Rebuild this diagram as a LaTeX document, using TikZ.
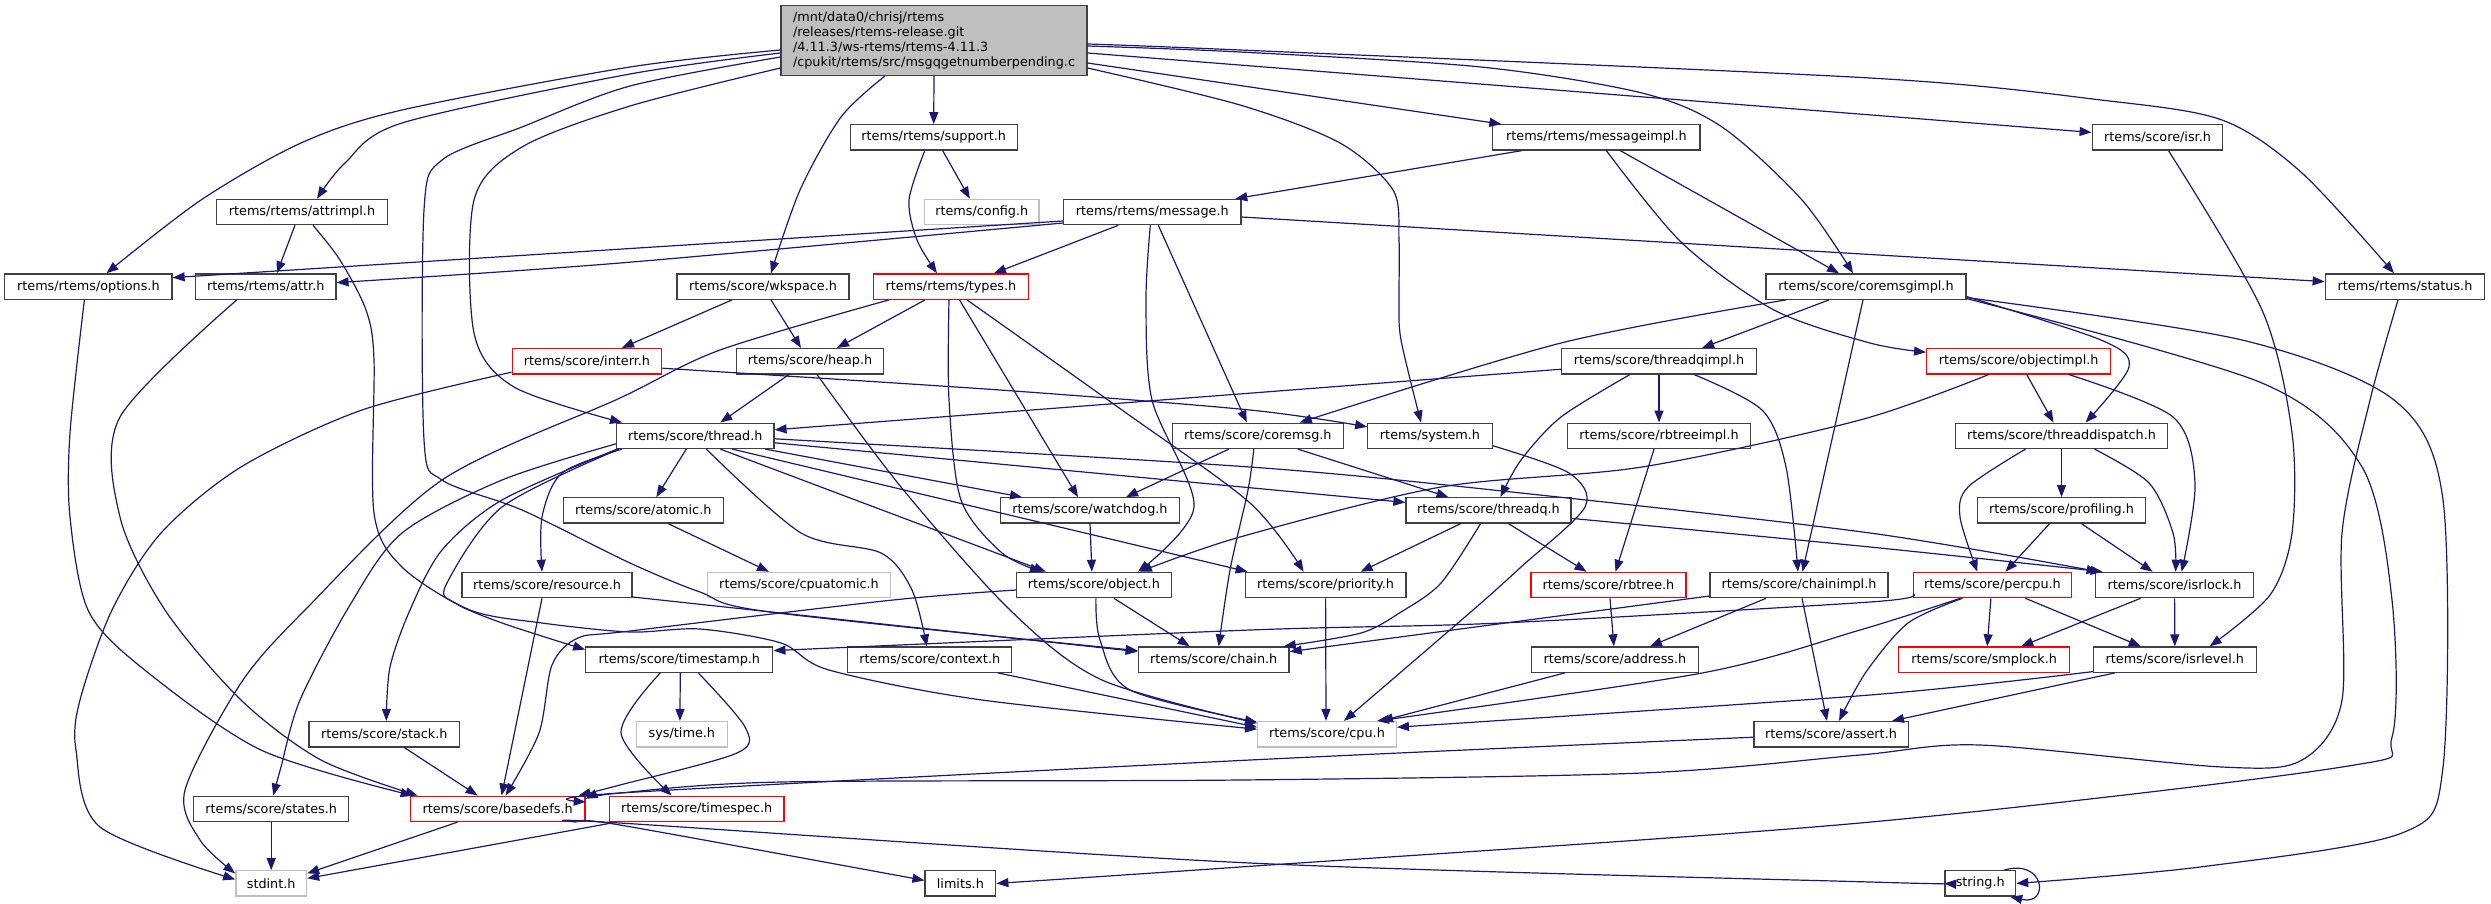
\documentclass[tikz,border=0pt]{standalone}
\usepackage{fontspec}
\setmainfont{DejaVu Sans}
\usetikzlibrary{arrows.meta}
\definecolor{edgec}{RGB}{25,25,112}
\definecolor{bord}{HTML}{404040}
\definecolor{redb}{HTML}{FF0000}
\definecolor{grayb}{HTML}{BFBFBF}
\begin{document}
\begin{tikzpicture}[x=1pt,y=-1pt,
 nd/.style={draw=bord, line width=1.3pt, fill=white, rectangle, inner sep=0pt, minimum height=25.3pt, font=\fontsize{12.8}{14.8}\selectfont},
 rd/.style={nd, draw=redb},
 gd/.style={nd, draw=grayb},
 rootnd/.style={nd, fill=grayb, align=left},
 dep/.style={draw=edgec, line width=1.2pt, -{Triangle[length=12pt,width=9pt]}},
]
\useasboundingbox (0,0) rectangle (2491,903);
% ---------- nodes ----------
\node[rootnd, minimum width=306, minimum height=69.6] (root) at (934,40.5) {/mnt/data0/chrisj/rtems\\/releases/rtems-release.git\\/4.11.3/ws-rtems/rtems-4.11.3\\/cpukit/rtems/src/msgqgetnumberpending.c};
\node[nd, minimum width=167] (support) at (933.7,137.4) {rtems/rtems/support.h};
\node[nd, minimum width=207.3] (messageimpl) at (1596.4,137.4) {rtems/rtems/messageimpl.h};
\node[nd, minimum width=130.6] (isr) at (2157.5,137.4) {rtems/score/isr.h};
\node[nd, minimum width=170.7] (attrimpl) at (302,212) {rtems/rtems/attrimpl.h};
\node[gd, minimum width=114.5] (config) at (981.8,212) {rtems/config.h};
\node[nd, minimum width=177.6] (message) at (1152.3,212) {rtems/rtems/message.h};
\node[nd, minimum width=167.2] (options) at (88.4,286.6) {rtems/rtems/options.h};
\node[nd, minimum width=140.2] (attr) at (265.8,286.6) {rtems/rtems/attr.h};
\node[nd, minimum width=172] (wkspace) at (763,286.6) {rtems/score/wkspace.h};
\node[rd, minimum width=155] (types) at (951,286.6) {rtems/rtems/types.h};
\node[nd, minimum width=200] (coremsgimpl) at (1866,286.6) {rtems/score/coremsgimpl.h};
\node[nd, minimum width=159.5] (status) at (2405,286.6) {rtems/rtems/status.h};
\node[rd, minimum width=149.5] (interr) at (587,361.2) {rtems/score/interr.h};
\node[nd, minimum width=146.7] (heap) at (810,361.2) {rtems/score/heap.h};
\node[nd, minimum width=194.5] (threadqimpl) at (1659,361.2) {rtems/score/threadqimpl.h};
\node[rd, minimum width=184] (objectimpl) at (2018.7,361.2) {rtems/score/objectimpl.h};
\node[nd, minimum width=157.2] (thread) at (695.3,435.8) {rtems/score/thread.h};
\node[nd, minimum width=171] (coremsg) at (1257.8,435.8) {rtems/score/coremsg.h};
\node[nd, minimum width=124.5] (system) at (1430,435.8) {rtems/system.h};
\node[nd, minimum width=182.4] (rbtreeimpl) at (1659,435.8) {rtems/score/rbtreeimpl.h};
\node[nd, minimum width=211.7] (threaddispatch) at (2061.5,435.8) {rtems/score/threaddispatch.h};
\node[nd, minimum width=160] (atomic) at (643.3,510.4) {rtems/score/atomic.h};
\node[nd, minimum width=178.8] (watchdog) at (1090,510.4) {rtems/score/watchdog.h};
\node[nd, minimum width=165] (threadq) at (1488.5,510.4) {rtems/score/threadq.h};
\node[nd, minimum width=167.6] (profiling) at (2061.5,510.4) {rtems/score/profiling.h};
\node[nd, minimum width=170] (resource) at (547,585) {rtems/score/resource.h};
\node[gd, minimum width=182.8] (cpuatomic) at (799,585) {rtems/score/cpuatomic.h};
\node[nd, minimum width=154.7] (object) at (1093.9,585) {rtems/score/object.h};
\node[nd, minimum width=160.7] (priority) at (1325.6,585) {rtems/score/priority.h};
\node[rd, minimum width=155] (rbtree) at (1608.5,585) {rtems/score/rbtree.h};
\node[nd, minimum width=178] (chainimpl) at (1799,585) {rtems/score/chainimpl.h};
\node[rd, minimum width=158] (percpu) at (1992.4,585) {rtems/score/percpu.h};
\node[nd, minimum width=158.3] (isrlock) at (2174.6,585) {rtems/score/isrlock.h};
\node[nd, minimum width=187] (timestamp) at (679.3,659.6) {rtems/score/timestamp.h};
\node[nd, minimum width=164] (context) at (929.8,659.6) {rtems/score/context.h};
\node[nd, minimum width=150.7] (chain) at (1213.7,659.6) {rtems/score/chain.h};
\node[nd, minimum width=167] (address) at (1614.9,659.6) {rtems/score/address.h};
\node[rd, minimum width=171] (smplock) at (1984.2,659.6) {rtems/score/smplock.h};
\node[nd, minimum width=162.7] (isrlevel) at (2174.8,659.6) {rtems/score/isrlevel.h};
\node[nd, minimum width=150.6] (stack) at (384.3,734.2) {rtems/score/stack.h};
\node[gd, minimum width=90.8] (systime) at (681.9,734.2) {sys/time.h};
\node[gd, minimum width=138.6] (cpu) at (1327,734.2) {rtems/score/cpu.h};
\node[nd, minimum width=154.3] (assert) at (1831,734.2) {rtems/score/assert.h};
\node[nd, minimum width=155] (states) at (271.2,808.8) {rtems/score/states.h};
\node[rd, minimum width=174.8] (basedefs) at (497.6,808.8) {rtems/score/basedefs.h};
\node[rd, minimum width=174.4] (timespec) at (696.7,808.8) {rtems/score/timespec.h};
\node[gd, minimum width=70.7] (stdint) at (271.2,883.4) {stdint.h};
\node[nd, minimum width=70.7] (limits) at (960.4,883.4) {limits.h};
\node[nd, minimum width=70.7] (string) at (1980.2,883.4) {string.h};
% ---------- edges ----------
% root
\draw[dep] plot[smooth] coordinates {([yshift=-9.5]root.west) (630,67) (402,110) (301,143) (201,200) ([xshift=18]options.north)};
\draw[dep] plot[smooth] coordinates {([yshift=-12.5]root.west) (630,74) (402,123) (345,163) ([xshift=15]attrimpl.north)};
\draw[dep] plot[smooth] coordinates {([yshift=-16.5]root.west) (630,86) (522,127) (442,160) (424,210) (424,440) (442,480) (522,510) (630,563) (700,592) (770,612) ([yshift=9]chain.west)};
\draw[dep] plot[smooth] coordinates {([yshift=-27.5]root.west) (630,106) (522,147) (474,200) (474,333) (514,387) ([xshift=6]thread.north west)};
\draw[dep] plot[smooth] coordinates {([xshift=-49]root.south) (841,117) (800,190) ([xshift=8]wkspace.north)};
\draw[dep] (root.south) -- (support.north);
\draw[dep] plot[smooth] coordinates {([yshift=-27.5]root.east) (1240,105) (1340,143) (1393,190) (1399,240) (1399,300) (1401,340) ([xshift=-9]system.north)};
\draw[dep] ([yshift=-22.5]root.east) -- ([xshift=-95]messageimpl.north);
\draw[dep] plot[smooth] coordinates {([yshift=-5.5]root.east) (1240,52) (1481,67) (1642,93) (1722,127) (1802,200) ([xshift=-13]coremsgimpl.north)};
\draw[dep] ([yshift=-12.5]root.east) -- ([yshift=5]isr.west);
\draw[dep] plot[smooth] coordinates {([yshift=-3.5]root.east) (1240,50) (1870,78) (2101,100) (2222,120) (2302,173) ([xshift=-11]status.north)};
% support
\draw[dep] plot[smooth] coordinates {([xshift=-9]support.south) (909,200) (917,240) ([xshift=-14]types.north)};
\draw[dep] ([xshift=9]support.south) -- ([xshift=-12]config.north);
% messageimpl
\draw[dep] ([xshift=-75]messageimpl.south) -- ([xshift=83]message.north);
\draw[dep] ([xshift=24]messageimpl.south) -- ([xshift=-27]coremsgimpl.north);
\draw[dep] plot[smooth] coordinates {([xshift=10]messageimpl.south) (1682,243) (1774,310) (1870,343) ([yshift=9]objectimpl.west)};
% isr
\draw[dep] plot[smooth] coordinates {([xshift=11]isr.south) (2262,310) (2292,433) (2292,533) (2270,595) ([xshift=35]isrlevel.north)};
% attrimpl
\draw[dep] ([xshift=-7]attrimpl.south) -- ([xshift=11]attr.north);
\draw[dep] plot[smooth] coordinates {([xshift=11]attrimpl.south) (340,260) (366,310) (374,360) (374,513) (402,567) (470,610) (542,623) (630,632) (700,629) (781,643) (829,670) (982,700) ([yshift=5]cpu.west)};
% message
\draw[dep] ([yshift=-9]message.west) -- ([yshift=9]options.east);
\draw[dep] plot[smooth] coordinates {([yshift=-11]message.west) (620,263) ([yshift=4]attr.east)};
\draw[dep] ([xshift=-34]message.south) -- ([xshift=43]types.north);
\draw[dep] plot[smooth] coordinates {([xshift=-2]message.south) (1146,300) (1152,400) (1194,507) ([xshift=44]object.north)};
\draw[dep] ([xshift=6]message.south) -- ([xshift=-11]coremsg.north);
\draw[dep] ([yshift=-5]message.east) -- ([yshift=5]status.west);
% wkspace
\draw[dep] ([xshift=-31]wkspace.south) -- ([xshift=35]interr.north);
\draw[dep] ([xshift=8]wkspace.south) -- ([xshift=-9]heap.north);
% types
\draw[dep] plot[smooth] coordinates {([xshift=-62]types.south) (720,350) (620,398) (442,480) (305,610) (241,683) (185,790) (200,840) ([yshift=10]stdint.west)};
\draw[dep] ([xshift=-26]types.south) -- ([xshift=27]heap.north);
\draw[dep] plot[smooth] coordinates {([xshift=-2]types.south) (949,400) (961,500) (1002,553) ([xshift=-52]object.north)};
\draw[dep] ([xshift=8.5]types.south) -- ([xshift=-12]watchdog.north);
\draw[dep] plot[smooth] coordinates {([xshift=16]types.south) (1122,410) (1250,503) ([xshift=-22]priority.north)};
% coremsgimpl
\draw[dep] plot[smooth] coordinates {([xshift=-80]coremsgimpl.south) (1561,343) ([xshift=42]coremsg.north)};
\draw[dep] ([xshift=-37]coremsgimpl.south) -- ([xshift=43]threadqimpl.north);
\draw[dep] ([xshift=-3]coremsgimpl.south) -- ([xshift=3.5]chainimpl.north);
\draw[dep] plot[smooth] coordinates {([yshift=-10]coremsgimpl.east) (2101,340) (2129,367) ([xshift=24]threaddispatch.north)};
\draw[dep] plot[smooth] coordinates {([yshift=-11]coremsgimpl.east) (2242,340) (2394,400) (2443,500) (2443,767) (2402,833) (2200,867) (string.east)};
\draw[dep] plot[smooth] coordinates {([yshift=-12]coremsgimpl.east) (2262,383) (2362,467) (2392,600) (2392,737) (2342,767) (1860,823) (1240,867) (limits.east)};
% status
\draw[dep] plot[smooth] coordinates {([xshift=-7]status.south) (2370,400) (2342,533) (2342,700) (2302,760) (2222,767) (1980,745) (1860,755) (1642,773) (1240,780) (781,782) (620,793) ([yshift=10]basedefs.east)};
% interr
\draw[dep] plot[smooth] coordinates {([yshift=-11]interr.west) (362,410) (241,467) (161,533) (112,610) (80,700) (76,750) (100,827) ([yshift=4]stdint.west)};
\draw[dep] plot[smooth] coordinates {([yshift=-7]interr.east) (1000,390) (1250,410) ([yshift=9]system.west)};
% heap
\draw[dep] ([xshift=-21]heap.south) -- ([xshift=25]thread.north);
\draw[dep] plot[smooth] coordinates {([xshift=7]heap.south) (901,487) (1010,610) (1102,680) ([yshift=11]cpu.west)};
% threadqimpl
\draw[dep] ([yshift=-8]threadqimpl.west) -- ([yshift=6]thread.east);
\draw[dep] plot[smooth] coordinates {([xshift=-29]threadqimpl.south) (1561,417) (1521,460) ([xshift=12]threadq.north)};
\draw[dep] (threadqimpl.south) -- (rbtreeimpl.north);
\draw[dep] plot[smooth] coordinates {([xshift=35]threadqimpl.south) (1762,410) (1786,467) ([xshift=-1]chainimpl.north)};
% objectimpl
\draw[dep] plot[smooth] coordinates {([xshift=-30]objectimpl.south) (1860,420) (1642,467) (1441,487) (1240,537) ([xshift=46]object.north)};
\draw[dep] ([xshift=8]objectimpl.south) -- ([xshift=-8]threaddispatch.north);
\draw[dep] plot[smooth] coordinates {([xshift=50]objectimpl.south) (2173,417) (2195,483) ([xshift=7]isrlock.north)};
% thread
\draw[dep] plot[smooth] coordinates {([yshift=-3]thread.east) (1250,467) (1521,493) (1870,533) ([xshift=-76]isrlock.north)};
\draw[dep] ([yshift=-7]thread.east) -- ([yshift=8]threadq.west);
\draw[dep] ([xshift=70]thread.south) -- ([xshift=-68]watchdog.north);
\draw[dep] ([xshift=37]thread.south) -- ([xshift=-78]priority.north);
\draw[dep] ([xshift=25]thread.south) -- ([xshift=-48]object.north);
\draw[dep] plot[smooth] coordinates {([xshift=11]thread.south) (801,533) (881,553) (912,590) ([xshift=-3]context.north)};
\draw[dep] ([xshift=-9]thread.south) -- ([xshift=13]atomic.north);
\draw[dep] plot[smooth] coordinates {([xshift=6]thread.south west) (562,473) (542,517) ([xshift=-5]resource.north)};
\draw[dep] plot[smooth] coordinates {([yshift=-8]thread.west) (502,480) (402,533) (350,605) (300,700) (281,767) ([xshift=2]states.north)};
\draw[dep] plot[smooth] coordinates {([xshift=1]thread.south west) (502,500) (442,550) (410,610) (390,667) ([xshift=2]stack.north)};
\draw[dep] plot[smooth] coordinates {([xshift=3]thread.south west) (502,507) (446,585) (455,603) (502,623) ([yshift=10]timestamp.west)};
% resource
\draw[dep] ([xshift=-5]resource.south) -- ([xshift=4]basedefs.north);
\draw[dep] ([yshift=-12]resource.east) -- ([yshift=8]chain.west);
% atomic, watchdog, coremsg
\draw[dep] ([xshift=25]atomic.south) -- ([xshift=-30]cpuatomic.north);
\draw[dep] (watchdog.south) -- ([xshift=-2]object.north);
\draw[dep] ([xshift=-29]coremsg.south) -- ([xshift=36]watchdog.north);
\draw[dep] ([xshift=40]coremsg.south) -- ([xshift=-40]threadq.north);
\draw[dep] plot[smooth] coordinates {([xshift=-4]coremsg.south) (1248,490) (1230,570) ([xshift=5]chain.north)};
% system
\draw[dep] plot[smooth] coordinates {([yshift=-10]system.east) (1569,473) (1585,507) (1521,567) (1473,610) ([xshift=17]cpu.north)};
% rbtreeimpl
\draw[dep] ([xshift=-5]rbtreeimpl.south) -- ([xshift=7]rbtree.north);
% threaddispatch
\draw[dep] plot[smooth] coordinates {([xshift=-36]threaddispatch.south) (1968,487) (1960,517) ([xshift=-15]percpu.north)};
\draw[dep] (threaddispatch.south) -- (profiling.north);
\draw[dep] plot[smooth] coordinates {([xshift=33]threaddispatch.south) (2149,483) (2173,533) ([xshift=1]isrlock.north)};
% threadq
\draw[dep] ([xshift=-28]threadq.south) -- ([xshift=35]priority.north);
\draw[dep] plot[smooth] coordinates {([xshift=-8]threadq.south) (1441,583) (1401,612) (1361,633) ([xshift=70]chain.north)};
\draw[dep] ([xshift=20]threadq.south) -- ([xshift=-22]rbtree.north);
\draw[dep] plot[smooth] coordinates {([yshift=-8]threadq.east) (1870,547) ([xshift=-72]isrlock.north)};
% profiling
\draw[dep] ([xshift=-12]profiling.south) -- ([xshift=13]percpu.north);
\draw[dep] ([xshift=20]profiling.south) -- ([xshift=-22]isrlock.north);
% object
\draw[dep] plot[smooth] coordinates {([xshift=2]object.south) (1100,640) (1130,690) ([yshift=12]cpu.west)};
\draw[dep] ([xshift=20]object.south) -- ([xshift=-24]chain.north);
\draw[dep] plot[smooth] coordinates {([yshift=-5]object.west) (893,600) (630,631) (578,638) (552,665) (539,733) ([xshift=8]basedefs.north)};
% priority, rbtree, chainimpl
\draw[dep] (priority.south) -- ([xshift=-1]cpu.north);
\draw[dep] ([xshift=1.5]rbtree.south) -- ([xshift=-1]address.north);
\draw[dep] ([yshift=-11]chainimpl.west) -- ([yshift=8]chain.east);
\draw[dep] ([xshift=-33]chainimpl.south) -- ([xshift=35]address.north);
\draw[dep] ([xshift=3]chainimpl.south) -- ([xshift=-4]assert.north);
% percpu
\draw[dep] plot[smooth] coordinates {([yshift=-9]percpu.west) (1870,602) (1501,623) (1250,630) ([yshift=9]timestamp.east)};
\draw[dep] plot[smooth] coordinates {([xshift=-32]percpu.south) (1860,630) (1702,673) ([xshift=50]cpu.north)};
\draw[dep] plot[smooth] coordinates {([xshift=-30]percpu.south) (1908,623) (1866,672) ([xshift=8]assert.north)};
\draw[dep] ([xshift=-1.5]percpu.south) -- ([xshift=3]smplock.north);
\draw[dep] ([xshift=33]percpu.south) -- ([xshift=-34]isrlevel.north);
% isrlock
\draw[dep] ([xshift=-34]isrlock.south) -- ([xshift=37]smplock.north);
\draw[dep] (isrlock.south) -- (isrlevel.north);
% timestamp
\draw[dep] plot[smooth] coordinates {([xshift=-19]timestamp.south) (621,733) ([xshift=-25]timespec.north)};
\draw[dep] ([xshift=1]timestamp.south) -- ([xshift=-2]systime.north);
\draw[dep] plot[smooth] coordinates {([xshift=19]timestamp.south) (745,727) (737,753) (620,785) ([xshift=81]basedefs.north)};
% context, address, isrlevel
\draw[dep] ([xshift=68]context.south) -- ([yshift=7]cpu.west);
\draw[dep] ([xshift=-50]address.south) -- ([xshift=54]cpu.north);
\draw[dep] plot[smooth] coordinates {([yshift=-12]isrlevel.west) (1870,695) ([yshift=7]cpu.east)};
\draw[dep] ([xshift=-60]isrlevel.south) -- ([xshift=61]assert.north);
% assert
\draw[dep] plot[smooth] coordinates {([yshift=-3]assert.west) (1250,760) (620,793) ([yshift=7]basedefs.east)};
% stack, states
\draw[dep] ([xshift=20]stack.south) -- ([xshift=-20]basedefs.north);
\draw[dep] (states.south) -- (stdint.north);
% options, attr
\draw[dep] plot[smooth] coordinates {([xshift=-4]options.south) (70,433) (70,517) (88,610) (141,667) (261,750) ([xshift=-85]basedefs.north)};
\draw[dep] plot[smooth] coordinates {([xshift=-29]attr.south) (120,417) (120,517) (165,610) (241,700) (321,760) ([xshift=-80]basedefs.north)};
% basedefs
\draw[dep] ([xshift=-40]basedefs.south) -- ([yshift=10]stdint.east);
\draw[dep] plot[smooth] coordinates {([xshift=81]basedefs.south) (620,825) ([yshift=3]limits.west)};
\draw[dep] plot[smooth] coordinates {([xshift=79]basedefs.south) (620,823) (1250,863) (1870,882) (string.west)};
% timespec
\draw[dep] ([xshift=-80]timespec.south) -- ([yshift=5]stdint.east);
% string self loop
\draw[dep] ([xshift=24]string.north) .. controls (2045,858) and (2050,906) .. ([xshift=30]string.south);
\end{tikzpicture}
\end{document}
